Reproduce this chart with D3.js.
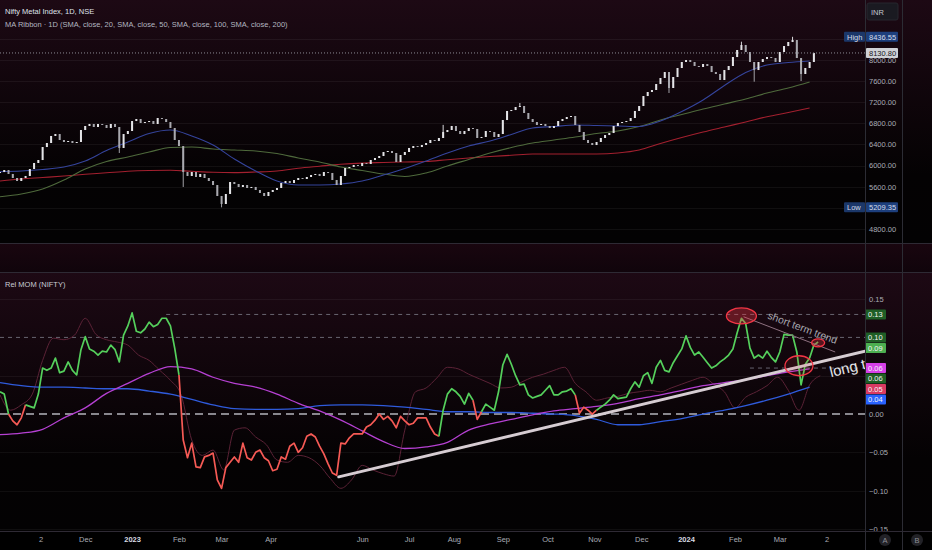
<!DOCTYPE html>
<html>
<head>
<meta charset="utf-8">
<title>Nifty Metal Index - Rel MOM</title>
<script src="https://cdn.jsdelivr.net/npm/d3@7"></script>
<style>
  html, body { margin: 0; padding: 0; background: #000; }
  svg { display: block; font-family: "Liberation Sans", Arial, sans-serif; }
</style>
</head>
<body>
<svg id="chart" width="932" height="550"></svg>
<script>
// visible window (trading sessions are counted Mon-Fri from viewStart)
var viewStart = '2022-10-06';
var viewEnd = '2024-04-26';

var timeTicks = [
    ['2022-11-02', '2'], ['2022-12-01', 'Dec'], ['2023-01-02', '2023'], ['2023-02-01', 'Feb'],
    ['2023-03-01', 'Mar'], ['2023-04-03', 'Apr'], ['2023-06-01', 'Jun'], ['2023-07-03', 'Jul'],
    ['2023-08-01', 'Aug'], ['2023-09-01', 'Sep'], ['2023-10-02', 'Oct'], ['2023-11-01', 'Nov'],
    ['2023-12-01', 'Dec'], ['2024-01-01', '2024'], ['2024-02-01', 'Feb'], ['2024-03-01', 'Mar'],
    ['2024-04-02', '2']
];
var yearLabels = ['2023', '2024'];

// Nifty Metal closes, one reading every 2 sessions
var closeStep = 2;
var closes = [
    5878, 5916, 5841, 5765, 5708, 5765, 5803, 5935, 6049, 6105,
    6351, 6427, 6560, 6597, 6484, 6446, 6465, 6427, 6446, 6673,
    6749, 6787, 6730, 6787, 6768, 6711, 6787, 6730, 6333, 6597,
    6654, 6843, 6881, 6806, 6824, 6843, 6787, 6900, 6881, 6824,
    6711, 6484, 6370, 5878, 5803, 5878, 5784, 5841, 5765, 5708,
    5632, 5424, 5273, 5462, 5689, 5651, 5595, 5632, 5576, 5595,
    5538, 5481, 5424, 5500, 5538, 5576, 5670, 5708, 5670, 5727,
    5765, 5746, 5784, 5822, 5841, 5803, 5878, 5860, 5727, 5632,
    5803, 5954, 5973, 6011, 5992, 6049, 6030, 6105, 6143, 6181,
    6257, 6276, 6238, 6068, 6200, 6257, 6333, 6370, 6351, 6389,
    6427, 6484, 6465, 6522, 6635, 6673, 6749, 6654, 6597, 6654,
    6711, 6692, 6522, 6541, 6654, 6635, 6541, 6597, 6862, 7033,
    7051, 7108, 7127, 6995, 6881, 6824, 6768, 6787, 6749, 6711,
    6749, 6843, 6881, 6919, 6938, 6768, 6635, 6484, 6427, 6389,
    6446, 6522, 6578, 6616, 6749, 6806, 6824, 6843, 6900, 7033,
    7127, 7316, 7392, 7430, 7543, 7657, 7770, 7468, 7676, 7846,
    7960, 7997, 7960, 7884, 7865, 7922, 7884, 7770, 7733, 7619,
    7808, 7884, 8054, 8187, 8281, 8149, 7960, 7808, 7960, 8016,
    8054, 8035, 7960, 8149, 8262, 8338, 8376, 8035, 7733, 7846,
    7960, 8130.80
];
// visible wicks: [reading index, price]
var highWicks = [[104, 6770], [122, 7184], [174, 8344], [186, 8436.55]];
var lowWicks = [[28, 6238], [43, 5595], [52, 5209.35], [157, 7373], [177, 7587], [188, 7600]];

// MA ribbon, one reading every 10 sessions
var maStep = 10;
var sma50 = [
    5884, 5897, 5926, 5973, 6087, 6285, 6446, 6607, 6673, 6560,
    6389, 6124, 5897, 5708, 5632, 5632, 5651, 5708, 5822, 5945,
    6087, 6238, 6370, 6465, 6588, 6711, 6739, 6768, 6758, 6749,
    6739, 6843, 7023, 7241, 7515, 7761, 7903, 7950, 7979
];
var sma100 = [
    5411, 5462, 5557, 5727, 5935, 6077, 6162, 6257, 6342, 6351,
    6314, 6295, 6276, 6228, 6143, 6068, 5973, 5907, 5841, 5793,
    5860, 5992, 6115, 6238, 6342, 6427, 6484, 6541, 6607, 6654,
    6739, 6862, 6966, 7070, 7165, 7260, 7373, 7468, 7581
];
var sma200 = [
    5708, 5746, 5774, 5803, 5835, 5863, 5892, 5907, 5912, 5892,
    5873, 5867, 5878, 5897, 5950, 5988, 6024, 6047, 6058, 6068,
    6077, 6111, 6143, 6172, 6194, 6219, 6219, 6219, 6219, 6238,
    6295, 6418, 6531, 6635, 6730, 6824, 6925, 7004, 7089
];
var priceTicks = [4800, 5200, 5600, 6000, 6400, 6800, 7200, 7600, 8000, 8400];
var highPrice = 8436.55, lowPrice = 5209.35, lastPrice = 8130.80;

// Rel MOM (NIFTY), one reading every 2 sessions
var momStep = 2;
var relMom = [
    0.029, 0.026, 0.000, -0.009, -0.014, -0.005, 0.012, 0.010, 0.008, 0.026,
    0.060, 0.057, 0.060, 0.073, 0.054, 0.056, 0.068, 0.057, 0.051, 0.084,
    0.101, 0.085, 0.082, 0.077, 0.082, 0.081, 0.090, 0.084, 0.068, 0.103,
    0.115, 0.132, 0.108, 0.106, 0.111, 0.120, 0.114, 0.117, 0.125, 0.125,
    0.115, 0.086, 0.051, -0.034, -0.057, -0.038, -0.069, -0.070, -0.056, -0.054,
    -0.051, -0.086, -0.097, -0.070, -0.063, -0.056, -0.063, -0.038, -0.057, -0.060,
    -0.050, -0.047, -0.057, -0.061, -0.074, -0.072, -0.056, -0.059, -0.042, -0.038,
    -0.050, -0.044, -0.029, -0.026, -0.030, -0.042, -0.052, -0.065, -0.077, -0.080,
    -0.038, -0.039, -0.031, -0.026, -0.026, -0.026, -0.017, -0.014, -0.008, 0.000,
    -0.007, -0.003, -0.009, -0.018, -0.003, -0.009, -0.014, -0.012, -0.005, -0.005,
    -0.005, -0.017, -0.026, -0.029, 0.005, 0.026, 0.033, 0.029, 0.023, 0.013,
    0.027, 0.018, -0.007, 0.003, 0.013, 0.009, 0.005, 0.029, 0.064, 0.078,
    0.065, 0.050, 0.038, 0.039, 0.025, 0.021, 0.023, 0.025, 0.031, 0.037,
    0.025, 0.025, 0.029, 0.030, 0.033, 0.025, 0.001, 0.009, 0.005, 0.000,
    0.005, 0.009, 0.013, 0.018, 0.025, 0.020, 0.021, 0.022, 0.033, 0.042,
    0.035, 0.050, 0.054, 0.040, 0.061, 0.070, 0.057, 0.055, 0.067, 0.076,
    0.085, 0.102, 0.087, 0.077, 0.081, 0.074, 0.067, 0.060, 0.063, 0.068,
    0.072, 0.077, 0.085, 0.106, 0.125, 0.118, 0.086, 0.073, 0.077, 0.073,
    0.082, 0.074, 0.068, 0.081, 0.104, 0.103, 0.103, 0.081, 0.038, 0.065,
    0.073, 0.090, 0.094
];
// stretches of relMom drawn red: [from reading, to reading)
var momRedSpans = [[2, 6], [42, 103], [111, 113], [135, 140]];

// raw momentum (faint), one reading every 5 sessions
var rawStep = 5;
var relMomRaw = [
    0.025, 0.005, 0.012, 0.025, 0.070, 0.099, 0.097, 0.103, 0.125, 0.104,
    0.097, 0.094, 0.090, 0.077, 0.070, 0.057, 0.044, 0.025, -0.034, -0.054,
    -0.047, -0.073, -0.021, -0.018, -0.030, -0.040, -0.060, -0.063, -0.054, -0.057,
    -0.067, -0.084, -0.097, -0.086, -0.067, -0.073, -0.078, -0.081, -0.021, 0.029,
    0.034, 0.047, 0.061, 0.059, 0.052, 0.046, 0.040, 0.034, 0.035, 0.042,
    0.048, 0.052, 0.057, 0.061, 0.040, 0.029, 0.018, 0.021, 0.023, 0.027,
    0.029, 0.031, 0.029, 0.034, 0.039, 0.044, 0.048, 0.039, 0.029, 0.008,
    0.022, 0.029, 0.037, 0.048, 0.031, 0.005, 0.038, 0.050
];

// signal (magenta) and base (blue) averages, one reading every 10 sessions
var sigStep = 10;
var momSignal = [
    -0.027, -0.025, -0.020, -0.005, 0.008, 0.027, 0.040, 0.053, 0.062, 0.059,
    0.048, 0.040, 0.035, 0.026, 0.014, 0.004, -0.008, -0.022, -0.036, -0.045,
    -0.043, -0.037, -0.021, -0.013, -0.007, -0.001, 0.004, 0.007, 0.010, 0.014,
    0.020, 0.025, 0.031, 0.037, 0.041, 0.045, 0.050, 0.055, 0.059
];
var momBase = [
    0.041, 0.037, 0.035, 0.035, 0.034, 0.033, 0.033, 0.030, 0.026, 0.019,
    0.012, 0.007, 0.006, 0.006, 0.007, 0.011, 0.012, 0.012, 0.011, 0.009,
    0.006, 0.003, 0.003, 0.002, 0.002, 0.001, 0.000, -0.002, -0.007, -0.014,
    -0.014, -0.010, -0.006, 0.000, 0.005, 0.011, 0.018, 0.026, 0.035
];

var momTicks = [-0.15, -0.10, -0.05, 0, 0.05, 0.10, 0.15];
var momLevels = [
    {v: 0.13, from: '2023-01-24'},
    {v: 0.10, from: '2022-10-06'},
    {v: 0.06, from: '2024-02-12'}
];
var momTags = [
    {v: 0.13, label: '0.13', fill: '#1f5f26'},
    {v: 0.10, label: '0.10', fill: '#1f5f26'},
    {v: 0.09, label: '0.09', fill: '#4caf50'},
    {v: 0.06, label: '0.06', fill: '#d63fe8'},
    {v: 0.06, label: '0.06', fill: '#1f5f26'},
    {v: 0.05, label: '0.05', fill: '#d93a62'},
    {v: 0.04, label: '0.04', fill: '#2962ff'}
];

// hand-drawn annotations
var longTrend = [['2023-05-17', -0.082], ['2024-04-26', 0.082]];
var shortTrend = [['2024-02-07', 0.127], ['2024-04-08', 0.081]];
var marks = [
    {date: '2024-02-06', v: 0.128, rx: 15, ry: 8, fill: 0.35},
    {date: '2024-03-14', v: 0.063, rx: 14, ry: 10, fill: 0.12},
    {date: '2024-03-27', v: 0.093, rx: 6.5, ry: 4, fill: 0.3}
];
var notes = [
    {date: '2024-02-22', v: 0.125, text: 'short term trend', size: 10.4, angle: 20.6, color: '#a7a7b0'},
    {date: '2024-04-04', v: 0.048, text: 'long term trend', size: 15, angle: -13.5, color: '#e6e6ea'}
];

// ---------------------------------------------------------------

var W = 932, H = 550, plotW = 865;
var pricePane = {top: 0, bottom: 243};
var gapPane = {top: 244, bottom: 272};
var momPane = {top: 272, bottom: 531};

var t0 = new Date(viewStart);
function bar(s) {
    return d3.utcDay.range(t0, new Date(s)).filter(function(d) {
        var w = d.getUTCDay();
        return w !== 0 && w !== 6;
    }).length;
}

var x = d3.scaleLinear().domain([0, bar(viewEnd)]).range([0, plotW]);
var priceY = d3.scaleLinear().domain([4535, 9133]).range([pricePane.bottom, pricePane.top]);
var momY = d3.scaleLinear().domain([-0.1527, 0.1854]).range([momPane.bottom, momPane.top]);

var svg = d3.select('#chart');
var defs = svg.append('defs');

var grad = defs.append('linearGradient').attr('id', 'paneBg')
    .attr('x1', 0).attr('y1', 0).attr('x2', 0).attr('y2', 1);
grad.append('stop').attr('offset', 0).attr('stop-color', '#1d0914');
grad.append('stop').attr('offset', 0.72).attr('stop-color', '#040203');
grad.append('stop').attr('offset', 1).attr('stop-color', '#030203');

var grad2 = defs.append('linearGradient').attr('id', 'gapBg')
    .attr('x1', 0).attr('y1', 0).attr('x2', 0).attr('y2', 1);
grad2.append('stop').attr('offset', 0).attr('stop-color', '#19060f');
grad2.append('stop').attr('offset', 1).attr('stop-color', '#10040b');

defs.append('clipPath').attr('id', 'clipPrice').append('rect')
    .attr('x', 0).attr('y', pricePane.top).attr('width', plotW).attr('height', pricePane.bottom - pricePane.top);
defs.append('clipPath').attr('id', 'clipMom').append('rect')
    .attr('x', 0).attr('y', momPane.top).attr('width', plotW).attr('height', momPane.bottom - momPane.top);
defs.append('clipPath').attr('id', 'clipMomAxis').append('rect')
    .attr('x', plotW).attr('y', momPane.top).attr('width', W - plotW).attr('height', momPane.bottom - momPane.top);

svg.append('rect').attr('width', W).attr('height', H).attr('fill', '#000');
[pricePane, momPane].forEach(function(p) {
    svg.append('rect').attr('x', 0).attr('y', p.top).attr('width', W)
        .attr('height', p.bottom - p.top).attr('fill', 'url(#paneBg)');
});
svg.append('rect').attr('x', 0).attr('y', gapPane.top).attr('width', W)
    .attr('height', gapPane.bottom - gapPane.top).attr('fill', 'url(#gapBg)');

// ---------- price pane ----------
var pg = svg.append('g').attr('clip-path', 'url(#clipPrice)');

pg.selectAll('line.grid').data(priceTicks).enter().append('line')
    .attr('class', 'grid')
    .attr('x1', 0).attr('x2', plotW)
    .attr('y1', function(d) { return Math.round(priceY(d)) + 0.5; })
    .attr('y2', function(d) { return Math.round(priceY(d)) + 0.5; })
    .attr('stroke', '#ffffff').attr('stroke-opacity', 0.055);

var maLine = d3.line()
    .x(function(d, i) { return x(i * maStep); })
    .y(function(d) { return priceY(d); })
    .curve(d3.curveMonotoneX);

[[sma200, '#a3202f'], [sma100, '#4f6a3c'], [sma50, '#35449c']].forEach(function(s) {
    pg.append('path').attr('d', maLine(s[0]))
        .attr('fill', 'none').attr('stroke', s[1]).attr('stroke-width', 1.1);
});

var candles = closes.map(function(c, i) {
    var o = i ? closes[i - 1] : c;
    return {bar: i * closeStep, o: o, c: c, h: Math.max(o, c), l: Math.min(o, c)};
});
highWicks.forEach(function(w) { candles[w[0]].h = w[1]; });
lowWicks.forEach(function(w) { candles[w[0]].l = w[1]; });

var bodyW = 2;

pg.selectAll('line.wick').data(candles).enter().append('line')
    .attr('class', 'wick')
    .attr('x1', function(d) { return x(d.bar); })
    .attr('x2', function(d) { return x(d.bar); })
    .attr('y1', function(d) { return priceY(d.h); })
    .attr('y2', function(d) { return priceY(d.l); })
    .attr('stroke', function(d) { return d.c >= d.o ? '#d9d9dc' : '#a2a2a8'; })
    .attr('stroke-width', 1);

pg.selectAll('rect.body').data(candles).enter().append('rect')
    .attr('class', 'body')
    .attr('x', function(d) { return x(d.bar) - bodyW / 2; })
    .attr('width', bodyW)
    .attr('y', function(d) { return priceY(Math.max(d.o, d.c)); })
    .attr('height', function(d) { return Math.max(1, Math.abs(priceY(d.o) - priceY(d.c))); })
    .attr('fill', function(d) { return d.c >= d.o ? '#e4e4e7' : '#a9a9af'; });

// last price line
pg.append('line')
    .attr('x1', 0).attr('x2', plotW)
    .attr('y1', priceY(lastPrice)).attr('y2', priceY(lastPrice))
    .attr('stroke', '#8a8a94').attr('stroke-dasharray', '1,2').attr('stroke-width', 1);

// price axis, leaving out ticks that sit under the High / Low tags
var tagged = [highPrice, lowPrice];
var shownPriceTicks = priceTicks.filter(function(t) {
    return tagged.every(function(p) { return Math.abs(priceY(t) - priceY(p)) > 6; });
});
var priceAxis = svg.append('g')
    .attr('transform', 'translate(' + plotW + ',0)')
    .call(d3.axisRight(priceY).tickValues(shownPriceTicks).tickFormat(d3.format('.2f')).tickSize(0).tickPadding(4));
priceAxis.select('.domain').remove();
priceAxis.selectAll('text').attr('fill', '#a9acb5').attr('font-size', 7.5)
    .attr('font-family', '"Liberation Sans", Arial, sans-serif');

function tag(g, xPos, yVal, w, label, fill, color) {
    g.append('rect').attr('x', xPos).attr('y', yVal - 5).attr('width', w).attr('height', 10)
        .attr('rx', 1).attr('fill', fill);
    g.append('text').attr('x', xPos + 3).attr('y', yVal + 2.7)
        .attr('font-size', 7.5).attr('fill', color).text(label);
}

var fmt = d3.format('.2f');
tag(svg, 844, priceY(highPrice), 21, 'High', '#1b3769', '#d5dbe8');
tag(svg, 866, priceY(highPrice), 32, fmt(highPrice), '#1d3f7d', '#d5dbe8');
tag(svg, 844, priceY(lowPrice), 21, 'Low', '#1b3769', '#d5dbe8');
tag(svg, 866, priceY(lowPrice), 32, fmt(lowPrice), '#1d3f7d', '#d5dbe8');
tag(svg, 866, priceY(lastPrice), 32, fmt(lastPrice), '#cfd1d6', '#16161a');

svg.append('rect').attr('x', 867).attr('y', 3).attr('width', 31).attr('height', 17)
    .attr('rx', 2).attr('fill', '#1a1a21').attr('stroke', '#26262e');
svg.append('text').attr('x', 871).attr('y', 14.5).attr('font-size', 7.5)
    .attr('fill', '#c3c6cf').text('INR');

// legend
svg.append('text').attr('x', 5).attr('y', 14.4).attr('font-size', 7.5)
    .attr('fill', '#dfe2ea').text('Nifty Metal Index, 1D, NSE');
svg.append('text').attr('x', 5).attr('y', 26.7).attr('font-size', 7.5)
    .attr('fill', '#b4b7c0').text('MA Ribbon \u00b7 1D (SMA, close, 20, SMA, close, 50, SMA, close, 100, SMA, close, 200)');

// ---------- Rel MOM pane ----------
var mg = svg.append('g').attr('clip-path', 'url(#clipMom)');

mg.selectAll('line.grid').data(momTicks.filter(function(d) { return d !== 0 && d !== 0.10; }))
    .enter().append('line')
    .attr('class', 'grid')
    .attr('x1', 0).attr('x2', plotW)
    .attr('y1', function(d) { return Math.round(momY(d)) + 0.5; })
    .attr('y2', function(d) { return Math.round(momY(d)) + 0.5; })
    .attr('stroke', '#ffffff').attr('stroke-opacity', 0.05);

mg.selectAll('line.level').data(momLevels).enter().append('line')
    .attr('class', 'level')
    .attr('x1', function(d) { return x(bar(d.from)); }).attr('x2', plotW)
    .attr('y1', function(d) { return momY(d.v); })
    .attr('y2', function(d) { return momY(d.v); })
    .attr('stroke', '#7c7c88').attr('stroke-opacity', 0.8)
    .attr('stroke-dasharray', '4,4').attr('stroke-width', 1);

mg.append('line')
    .attr('x1', 0).attr('x2', plotW)
    .attr('y1', momY(0)).attr('y2', momY(0))
    .attr('stroke', '#b4b4bc').attr('stroke-dasharray', '8,5').attr('stroke-width', 1.5);

function seriesLine(step, values) {
    return d3.line()
        .x(function(d, i) { return x(i * step); })
        .y(function(d) { return momY(d); })
        .curve(d3.curveMonotoneX)(values);
}

mg.append('path').attr('d', seriesLine(rawStep, relMomRaw))
    .attr('fill', 'none').attr('stroke', '#5b2236').attr('stroke-width', 1);
mg.append('path').attr('d', seriesLine(sigStep, momBase))
    .attr('fill', 'none').attr('stroke', '#2f5bdc').attr('stroke-width', 1.3);
mg.append('path').attr('d', seriesLine(sigStep, momSignal))
    .attr('fill', 'none').attr('stroke', '#b540d2').attr('stroke-width', 1.3);

function isRed(i) {
    return momRedSpans.some(function(s) { return i >= s[0] && i < s[1]; });
}
var runs = [];
relMom.forEach(function(v, i) {
    if (i === relMom.length - 1) return;
    var red = isRed(i);
    var last = runs[runs.length - 1];
    if (!last || last.red !== red) {
        last = {red: red, pts: [i]};
        runs.push(last);
    }
    last.pts.push(i + 1);
});
var momLine = d3.line()
    .x(function(i) { return x(i * momStep); })
    .y(function(i) { return momY(relMom[i]); });
mg.selectAll('path.mom').data(runs).enter().append('path')
    .attr('class', 'mom')
    .attr('d', function(r) { return momLine(r.pts); })
    .attr('fill', 'none')
    .attr('stroke', function(r) { return r.red ? '#f65a55' : '#55d05c'; })
    .attr('stroke-width', 1.7)
    .attr('stroke-linejoin', 'round');

// annotations
var trendLine = d3.line()
    .x(function(d) { return x(bar(d[0])); })
    .y(function(d) { return momY(d[1]); });
mg.append('path').attr('d', trendLine(shortTrend))
    .attr('fill', 'none').attr('stroke', '#8e7180').attr('stroke-width', 1);
mg.append('path').attr('d', trendLine(longTrend))
    .attr('fill', 'none').attr('stroke', '#d6ccd2').attr('stroke-width', 3)
    .attr('stroke-linecap', 'round');

mg.selectAll('ellipse').data(marks).enter().append('ellipse')
    .attr('cx', function(d) { return x(bar(d.date)); })
    .attr('cy', function(d) { return momY(d.v); })
    .attr('rx', function(d) { return d.rx; })
    .attr('ry', function(d) { return d.ry; })
    .attr('fill', function(d) { return 'rgba(242,54,69,' + d.fill + ')'; })
    .attr('stroke', '#f23645').attr('stroke-width', 1.3);

mg.selectAll('text.note').data(notes).enter().append('text')
    .attr('class', 'note')
    .attr('transform', function(d) {
        return 'translate(' + x(bar(d.date)) + ',' + momY(d.v) + ') rotate(' + d.angle + ')';
    })
    .attr('font-size', function(d) { return d.size; })
    .attr('fill', function(d) { return d.color; })
    .text(function(d) { return d.text; });

svg.append('text').attr('x', 5).attr('y', 286.7).attr('font-size', 7.5)
    .attr('fill', '#c9ccd4').text('Rel MOM (NIFTY)');

// value tags, pushed down where they would overlap
var tagH = 10.5, prevY = -Infinity, tagYs = [];
momTags.forEach(function(t) {
    var cy = Math.max(momY(t.v), prevY + tagH);
    prevY = cy;
    tagYs.push(cy);
});

// mom axis, leaving out ticks hidden by the tags
var shownMomTicks = momTicks.filter(function(t) {
    return tagYs.every(function(cy) { return Math.abs(momY(t) - cy) > 8; });
});
var momAxis = svg.append('g')
    .attr('clip-path', 'url(#clipMomAxis)')
    .append('g')
    .attr('transform', 'translate(' + plotW + ',0)')
    .call(d3.axisRight(momY).tickValues(shownMomTicks).tickFormat(d3.format('.2f')).tickSize(0).tickPadding(4));
momAxis.select('.domain').remove();
momAxis.selectAll('text').attr('fill', '#a9acb5').attr('font-size', 7.5)
    .attr('font-family', '"Liberation Sans", Arial, sans-serif');

momTags.forEach(function(t, i) {
    var cy = tagYs[i];
    svg.append('rect').attr('x', plotW).attr('y', cy - 5).attr('width', 21).attr('height', 10)
        .attr('rx', 1).attr('fill', t.fill);
    svg.append('text').attr('x', plotW + 3).attr('y', cy + 2.7)
        .attr('font-size', 7.5).attr('fill', '#f2f2f5').text(t.label);
});

// ---------- time axis and frame ----------
var timeAxis = svg.append('g')
    .attr('transform', 'translate(0,' + momPane.bottom + ')')
    .call(d3.axisBottom(x)
        .tickValues(timeTicks.map(function(t) { return bar(t[0]); }))
        .tickFormat(function(d, i) { return timeTicks[i][1]; })
        .tickSize(0).tickPadding(6));
timeAxis.select('.domain').remove();
timeAxis.selectAll('text')
    .attr('font-size', 7.5)
    .attr('font-family', '"Liberation Sans", Arial, sans-serif')
    .attr('fill', function(d, i) { return yearLabels.indexOf(timeTicks[i][1]) >= 0 ? '#d8dbe3' : '#a9acb5'; })
    .attr('font-weight', function(d, i) { return yearLabels.indexOf(timeTicks[i][1]) >= 0 ? 'bold' : 'normal'; });

[pricePane.bottom + 0.5, gapPane.bottom + 0.5, momPane.bottom + 0.5].forEach(function(yy) {
    svg.append('line').attr('x1', 0).attr('x2', W).attr('y1', yy).attr('y2', yy)
        .attr('stroke', '#2e2a34').attr('stroke-width', 1);
});
[plotW + 0.5, 902.5].forEach(function(xx) {
    svg.append('line').attr('x1', xx).attr('x2', xx).attr('y1', 0).attr('y2', H)
        .attr('stroke', '#2c2c34').attr('stroke-width', 1);
});

[['A', 885], ['B', 917]].forEach(function(b) {
    svg.append('circle').attr('cx', b[1]).attr('cy', 540).attr('r', 6).attr('fill', '#222227');
    svg.append('text').attr('x', b[1]).attr('y', 542.6).attr('text-anchor', 'middle')
        .attr('font-size', 7.5).attr('fill', '#8d8f97').text(b[0]);
});
</script>
</body>
</html>
